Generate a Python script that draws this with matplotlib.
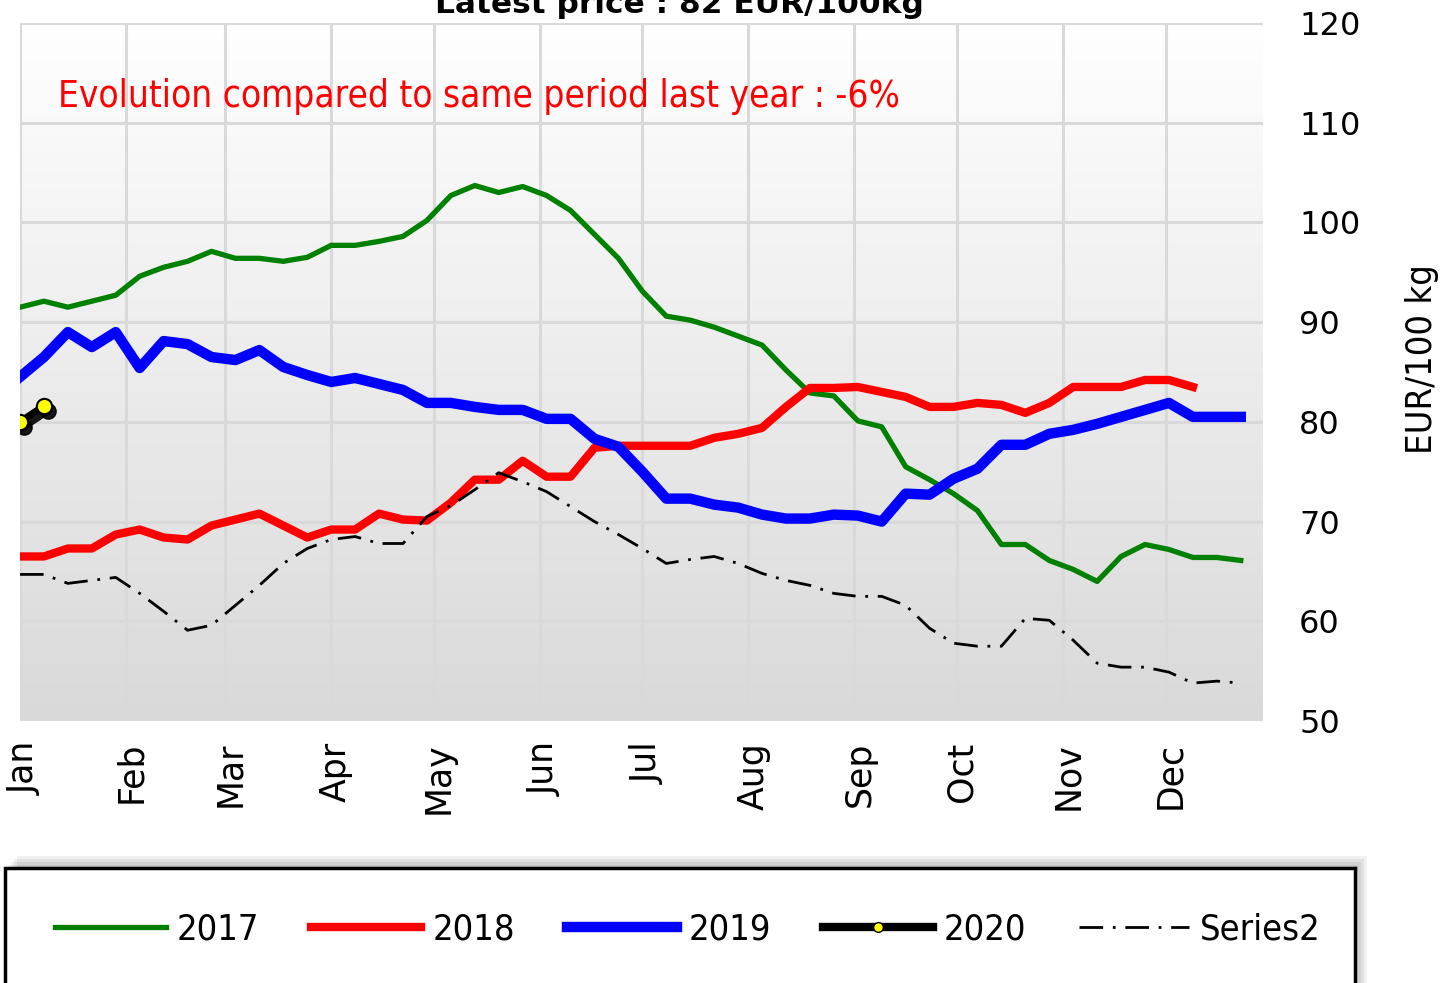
import numpy as np
import matplotlib
matplotlib.use("Agg")
import matplotlib.pyplot as plt
from matplotlib.colors import LinearSegmentedColormap
from matplotlib.patches import Rectangle
from matplotlib.lines import Line2D
from matplotlib.transforms import offset_copy, ScaledTranslation

months = ["Jan", "Feb", "Mar", "Apr", "May", "Jun",
          "Jul", "Aug", "Sep", "Oct", "Nov", "Dec"]
month_days = [0, 31, 60, 91, 121, 152, 182, 213, 244, 274, 305, 335]
weeks = np.arange(52)

y2017 = [91.5, 92.1, 91.5, 92.1, 92.7, 94.6, 95.5, 96.1, 97.1, 96.4,
         96.4, 96.1, 96.5, 97.7, 97.7, 98.1, 98.6, 100.2, 102.7, 103.7,
         103.0, 103.6, 102.7, 101.2, 98.8, 96.4, 93.1, 90.6, 90.2, 89.5,
         88.6, 87.7, 85.2, 82.9, 82.6, 80.1, 79.5, 75.5, 74.2, 72.8,
         71.1, 67.7, 67.7, 66.1, 65.2, 64.0, 66.5, 67.7, 67.2, 66.4,
         66.4, 66.1]
y2018 = [66.5, 66.5, 67.3, 67.3, 68.7, 69.2, 68.4, 68.2, 69.6, 70.2,
         70.8, 69.6, 68.4, 69.2, 69.2, 70.8, 70.2, 70.1, 71.9, 74.2,
         74.2, 76.1, 74.5, 74.5, 77.4, 77.6, 77.6, 77.6, 77.6, 78.4,
         78.8, 79.4, 81.5, 83.4, 83.4, 83.5, 83.0, 82.5, 81.5, 81.5,
         81.9, 81.7, 80.9, 81.9, 83.5, 83.5, 83.5, 84.2, 84.2, 83.5]
y2019 = [84.5, 86.5, 89.0, 87.5, 89.0, 85.4, 88.1, 87.8, 86.5, 86.2,
         87.2, 85.5, 84.7, 84.0, 84.4, 83.8, 83.2, 81.9, 81.9, 81.5,
         81.2, 81.2, 80.3, 80.3, 78.3, 77.5, 75.0, 72.3, 72.3, 71.7,
         71.4, 70.7, 70.3, 70.3, 70.7, 70.6, 70.0, 72.8, 72.7, 74.3,
         75.3, 77.7, 77.7, 78.8, 79.2, 79.8, 80.5, 81.2, 81.9, 80.5,
         80.5, 80.5]
y2020 = [80.0, 81.6]
series2 = [64.7, 64.7, 63.8, 64.1, 64.4, 62.8, 61.0, 59.1, 59.6, 61.6,
           63.6, 65.8, 67.3, 68.2, 68.5, 67.8, 67.8, 70.5, 71.6, 73.2,
           74.9, 74.0, 73.0, 71.5, 70.0, 68.7, 67.3, 65.8, 66.2, 66.5,
           65.8, 64.8, 64.1, 63.6, 62.8, 62.5, 62.5, 61.6, 59.3, 57.8,
           57.5, 57.5, 60.3, 60.1, 58.1, 55.8, 55.4, 55.4, 54.9, 53.8,
           54.0, 53.8]

days = weeks * 7
dashdot = (0, (8.5, 3.5, 1, 3.5))

fig = plt.figure(figsize=(14.45, 9.83), dpi=100)
ax = fig.add_axes([20 / 1445, 262 / 983, 1243 / 1445, 698 / 983])

# background gradient, white at top to grey at bottom
grad = LinearSegmentedColormap.from_list("bg", ["#d9d9d9", "#ffffff"])
ax.imshow(np.linspace(0, 1, 256).reshape(-1, 1), cmap=grad, aspect="auto",
          origin="lower", extent=[0, 363.5, 50, 120], zorder=0)

ax.plot(days, y2017, color="#008000", lw=3.8, zorder=3)
ax.plot(days[:len(y2018)], y2018, color="#ff0000", lw=6, zorder=3)
ax.plot(days, y2019, color="#0000ff", lw=7.5, zorder=3)
ax.plot(days, series2, color="black", lw=2, ls=dashdot, zorder=4)

# 2020: shadow first, then the line with yellow markers
shadow = offset_copy(ax.transData, fig=fig, x=4, y=-5, units="dots")
ax.plot(days[:2], y2020, color="black", lw=5, marker="o", ms=11,
        mfc="black", mec="black", transform=shadow, zorder=5, alpha=0.9)
ax.plot(days[:2], y2020, color="black", lw=5, marker="o", ms=11,
        mfc="yellow", mec="black", mew=1.5, zorder=6)

ax.set_xlim(0, 363.5)
ax.set_ylim(50, 120)
ax.set_xticks(month_days)
ax.set_xticklabels(months, rotation=90, fontsize=25)
ax.tick_params(axis="x", length=0, pad=15)
# month labels sit a few pixels right of their gridline
shift = ScaledTranslation(5 / 100, 0, fig.dpi_scale_trans)
for lab in ax.get_xticklabels():
    lab.set_transform(lab.get_transform() + shift)
ax.yaxis.tick_right()
ax.set_yticks(range(50, 121, 10))
ax.tick_params(axis="y", length=0, pad=26, labelsize=23)
ax.yaxis.set_label_position("right")
ax.set_ylabel("EUR/100 kg", fontsize=26, fontstretch="condensed")
ax.yaxis.set_label_coords(1.114, 0.519)
ax.grid(True, color="#d9d9d9", lw=2.2)
ax.set_axisbelow(True)
for s in ax.spines.values():
    s.set_visible(False)

ax.text(38 / 1243, (721 - 107) / 698, "Evolution compared to same period last year : -6%",
        transform=ax.transAxes, color="red", fontsize=26.5, fontstretch="condensed",
        va="baseline")

fig.text(679 / 1445, 1 - 13 / 983, "Latest price : 82 EUR/100kg", ha="center",
         va="baseline", fontsize=22.5, fontweight="bold")

# legend box with a soft shadow
for k in range(4):
    off = (k + 1) * 3
    fig.patches.append(Rectangle((5 / 1445 + off / 1445, -0.05), 1350 / 1445, 0.167 + off / 983,
                                 transform=fig.transFigure, facecolor="black",
                                 edgecolor="none", alpha=0.06, zorder=0))
fig.patches.append(Rectangle((5 / 1445, -0.05), 1350 / 1445, 0.167,
                             transform=fig.transFigure, facecolor="white",
                             edgecolor="black", lw=2.5, zorder=1))

handles = [Line2D([], [], color="#008000", lw=3.8),
           Line2D([], [], color="#ff0000", lw=6),
           Line2D([], [], color="#0000ff", lw=7.5),
           Line2D([], [], color="black", lw=6, marker="o", ms=7, mfc="yellow",
                  mec="black", mew=1),
           Line2D([], [], color="black", lw=2, ls=dashdot)]
labels = ["2017", "2018", "2019", "2020", "Series2"]
fig.legend(handles, labels, loc="center",
           bbox_to_anchor=(688 / 1445, 1 - 930 / 983), ncol=5, frameon=False,
           prop=dict(size=26, stretch="condensed"), handlelength=3.05,
           handletextpad=0.3, columnspacing=1.45, numpoints=1)

fig.savefig("out.png", dpi=100)
